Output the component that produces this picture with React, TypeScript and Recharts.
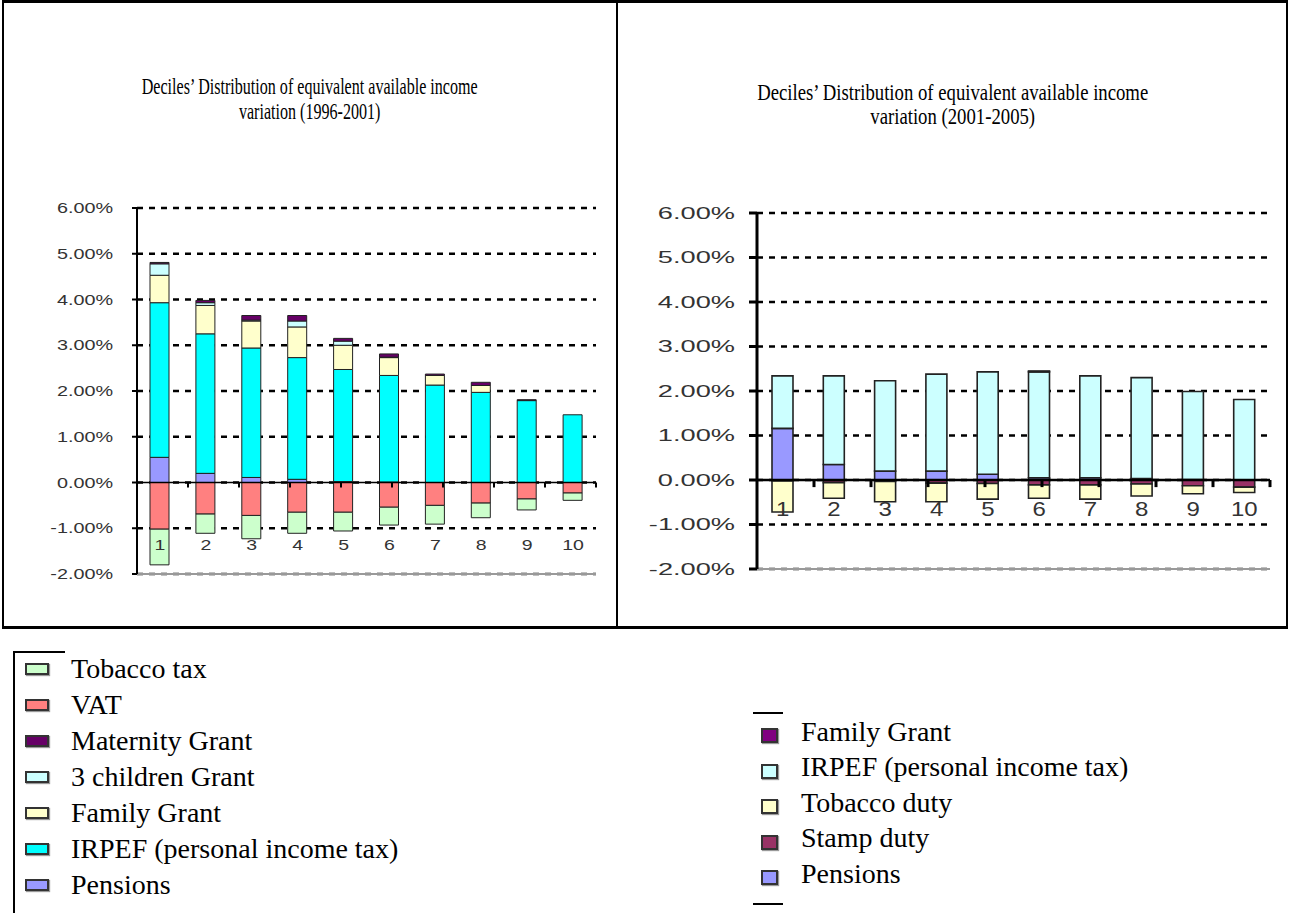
import React from 'react';
import { BarChart, Bar, XAxis, YAxis, CartesianGrid, ReferenceLine } from 'recharts';

// deciles on the x axis
const deciles = ['1', '2', '3', '4', '5', '6', '7', '8', '9', '10'];
const yTicks = [-2, -1, 0, 1, 2, 3, 4, 5, 6];
const boundaries = [1, 2, 3, 4, 5, 6, 7, 8, 9];

// 1996-2001, values in percent
const pensions96 = [0.55, 0.2, 0.11, 0.07, 0.02, 0.01, 0, 0, 0, 0];
const irpef96 = [3.38, 3.05, 2.83, 2.66, 2.45, 2.33, 2.13, 1.97, 1.79, 1.48];
const familyGrant96 = [0.6, 0.62, 0.59, 0.67, 0.53, 0.39, 0.21, 0.15, 0, 0];
const threeChildren96 = [0.25, 0.06, 0.02, 0.13, 0.09, 0.01, 0, 0, 0, 0];
const maternity96 = [0.03, 0.05, 0.1, 0.12, 0.06, 0.07, 0.03, 0.07, 0.02, 0];
const vat96 = [-1.02, -0.69, -0.72, -0.65, -0.65, -0.54, -0.5, -0.45, -0.36, -0.23];
const tobacco96 = [-0.78, -0.42, -0.51, -0.46, -0.41, -0.39, -0.41, -0.32, -0.24, -0.16];

// 2001-2005, values in percent
const pensions01 = [1.16, 0.35, 0.2, 0.2, 0.13, 0.05, 0.05, 0.03, 0.01, 0];
const irpef01 = [1.18, 1.99, 2.03, 2.18, 2.3, 2.38, 2.29, 2.27, 1.98, 1.81];
const familyGrant01 = [0, 0, 0, 0, 0, 0.02, 0, 0, 0, 0];
const stampDuty01 = [-0.02, -0.06, -0.03, -0.07, -0.08, -0.11, -0.11, -0.09, -0.13, -0.16];
const tobaccoDuty01 = [-0.7, -0.35, -0.46, -0.42, -0.35, -0.3, -0.32, -0.27, -0.18, -0.12];

type Series = { key: string; name: string; color: string; values: number[] };

// stacking order: positives upward first, then negatives downward
const series96: Series[] = [
  { key: 'pensions', name: 'Pensions', color: '#9999ff', values: pensions96 },
  { key: 'irpef', name: 'IRPEF (personal income tax)', color: '#00ffff', values: irpef96 },
  { key: 'family', name: 'Family Grant', color: '#ffffcc', values: familyGrant96 },
  { key: 'children', name: '3 children Grant', color: '#ccffff', values: threeChildren96 },
  { key: 'maternity', name: 'Maternity Grant', color: '#660066', values: maternity96 },
  { key: 'vat', name: 'VAT', color: '#ff8080', values: vat96 },
  { key: 'tobacco', name: 'Tobacco tax', color: '#ccffcc', values: tobacco96 },
];

const series01: Series[] = [
  { key: 'pensions', name: 'Pensions', color: '#9999ff', values: pensions01 },
  { key: 'stamp', name: 'Stamp duty', color: '#993366', values: stampDuty01 },
  { key: 'tobacco', name: 'Tobacco duty', color: '#ffffcc', values: tobaccoDuty01 },
  { key: 'irpef', name: 'IRPEF (personal income tax)', color: '#ccffff', values: irpef01 },
  { key: 'family', name: 'Family Grant', color: '#800080', values: familyGrant01 },
];

const SANS = '"Liberation Sans", Arial, sans-serif';
const SERIF = '"Liberation Serif", "Times New Roman", serif';

function toRows(list: Series[]) {
  return deciles.map((d, i) => {
    const row: Record<string, string | number> = { decile: d };
    list.forEach((s) => {
      row[s.key] = s.values[i];
    });
    return row;
  });
}

type ChartProps = {
  list: Series[];
  left: number;
  top: number;
  width: number;
  height: number;
  margin: { top: number; right: number; bottom: number; left: number };
  xHeight: number;
  yWidth: number;
  yGap: number;
  barSize: number;
  barStroke: number;
  yFont: number;
  yScale: number;
  xFont: number;
  xScale: number;
  xLabelOffset: number;
  axisWidth: number;
  tickLen: number;
  zeroTick: number;
};

function StackChart(p: ChartProps) {
  const data = toRows(p.list);
  const yTick = (props: any) => (
    <text
      transform={`translate(${props.x},${props.y}) scale(${p.yScale},1)`}
      textAnchor="end"
      dominantBaseline="central"
      fontSize={p.yFont}
      fontFamily={SANS}
      fill="#333"
    >
      {Number(props.payload.value).toFixed(2)}%
    </text>
  );
  const xTick = (props: any) => (
    <text
      transform={`translate(${props.x},${props.y + p.xLabelOffset}) scale(${p.xScale},1)`}
      textAnchor="middle"
      dominantBaseline="central"
      fontSize={p.xFont}
      fontFamily={SANS}
      fill="#333"
    >
      {props.payload.value}
    </text>
  );
  return (
    <div style={{ position: 'absolute', left: p.left, top: p.top }}>
      <BarChart width={p.width} height={p.height} data={data} margin={p.margin} stackOffset="sign">
        <CartesianGrid vertical={false} stroke="#000" strokeWidth={2.5} strokeDasharray="6 6" />
        <XAxis
          dataKey="decile"
          tick={xTick}
          tickLine={false}
          tickSize={0}
          tickMargin={0}
          height={p.xHeight}
          axisLine={{ stroke: '#999', strokeWidth: 2 }}
          interval={0}
        />
        <XAxis xAxisId="b" type="number" domain={[0, 10]} hide />
        <YAxis
          domain={[-2, 6]}
          ticks={yTicks}
          width={p.yWidth}
          tick={yTick}
          tickSize={p.tickLen}
          tickMargin={p.yGap}
          axisLine={{ stroke: '#000', strokeWidth: p.axisWidth }}
          tickLine={{ stroke: '#000', strokeWidth: p.axisWidth }}
          interval={0}
        />
        {p.list.map((s) => (
          <Bar
            key={s.key}
            dataKey={s.key}
            name={s.name}
            stackId="a"
            fill={s.color}
            stroke="#222"
            strokeWidth={p.barStroke}
            barSize={p.barSize}
            isAnimationActive={false}
          />
        ))}
        <ReferenceLine y={0} stroke="#000" strokeWidth={p.axisWidth - 0.5} />
        <ReferenceLine xAxisId="b" x={10} stroke="#999" strokeWidth={2.5} ifOverflow="visible" />
        {boundaries.map((b) => (
          <ReferenceLine
            key={b}
            xAxisId="b"
            segment={[
              { x: b, y: 0 },
              { x: b, y: -p.zeroTick },
            ]}
            stroke="#000"
            strokeWidth={p.axisWidth}
          />
        ))}
      </BarChart>
    </div>
  );
}

function Swatch({ color, w, h }: { color: string; w: number; h: number }) {
  return (
    <span
      style={{
        display: 'inline-block',
        width: w,
        height: h,
        background: color,
        border: '2px solid #333',
        boxShadow: '1px 1px 1px rgba(0,0,0,0.4)',
        boxSizing: 'border-box',
      }}
    />
  );
}

export default function App() {
  const legend96 = [...series96].reverse();
  const legend01 = [...series01].reverse();
  return (
    <div style={{ position: 'absolute', left: 0, top: 0, width: 1290, height: 913, background: '#fff' }}>
      {/* table frame */}
      <div
        style={{
          position: 'absolute',
          left: 2,
          top: 0,
          width: 1286,
          height: 629,
          borderTop: '3px solid #000',
          borderBottom: '3px solid #000',
          borderLeft: '2px solid #000',
          borderRight: '2px solid #000',
          boxSizing: 'border-box',
        }}
      />
      <div style={{ position: 'absolute', left: 616, top: 0, width: 2, height: 628, background: '#000' }} />

      <div
        style={{
          position: 'absolute',
          left: 4,
          top: 74,
          width: 612,
          textAlign: 'center',
          fontFamily: SERIF,
          fontSize: 24,
          lineHeight: '25px',
          color: '#000',
        }}
      >
        <div style={{ display: 'inline-block', transform: 'scaleX(0.67)' }}>
          Deciles’ Distribution of equivalent available income
          <br />
          variation (1996-2001)
        </div>
      </div>
      <div
        style={{
          position: 'absolute',
          left: 618,
          top: 80,
          width: 670,
          textAlign: 'center',
          fontFamily: SERIF,
          fontSize: 24,
          lineHeight: '24px',
          color: '#000',
        }}
      >
        <div style={{ display: 'inline-block', transform: 'scaleX(0.78)' }}>
          Deciles’ Distribution of equivalent available income
          <br />
          variation (2001-2005)
        </div>
      </div>

      <StackChart
        list={series96}
        left={20}
        top={190}
        width={590}
        height={408}
        margin={{ top: 18, right: 14, bottom: 0, left: 0 }}
        xHeight={24}
        yWidth={117}
        yGap={19}
        barSize={19}
        barStroke={1}
        yFont={15}
        yScale={1.32}
        xFont={15}
        xScale={1.3}
        xLabelOffset={-29}
        axisWidth={2}
        tickLen={5}
        zeroTick={0.11}
      />
      <StackChart
        list={series01}
        left={630}
        top={195}
        width={660}
        height={395}
        margin={{ top: 18, right: 20, bottom: 0, left: 0 }}
        xHeight={21}
        yWidth={127}
        yGap={14}
        barSize={21}
        barStroke={1.6}
        yFont={17}
        yScale={1.6}
        xFont={20}
        xScale={1.2}
        xLabelOffset={-60}
        axisWidth={3}
        tickLen={8}
        zeroTick={0.16}
      />

      {/* left legend */}
      <div style={{ position: 'absolute', left: 13, top: 651, width: 52, height: 2, background: '#000' }} />
      <div style={{ position: 'absolute', left: 13, top: 651, width: 2, height: 262, background: '#000' }} />
      <div style={{ position: 'absolute', left: 25, top: 651 }}>
        {legend96.map((s) => (
          <div
            key={s.key}
            style={{ height: 36, display: 'flex', alignItems: 'center', fontFamily: SERIF, fontSize: 28, color: '#000' }}
          >
            <Swatch color={s.color} w={24} h={12} />
            <span style={{ marginLeft: 22 }}>{s.name}</span>
          </div>
        ))}
      </div>

      {/* right legend */}
      <div style={{ position: 'absolute', left: 753, top: 712, width: 30, height: 2, background: '#000' }} />
      <div style={{ position: 'absolute', left: 753, top: 903, width: 30, height: 2, background: '#000' }} />
      <div style={{ position: 'absolute', left: 761, top: 714 }}>
        {legend01.map((s) => (
          <div
            key={s.key}
            style={{ height: 35.5, display: 'flex', alignItems: 'center', fontFamily: SERIF, fontSize: 28, color: '#000' }}
          >
            <span style={{ marginTop: 8, display: 'inline-flex' }}>
              <Swatch color={s.color} w={17} h={15} />
            </span>
            <span style={{ marginLeft: 23 }}>{s.name}</span>
          </div>
        ))}
      </div>
    </div>
  );
}
